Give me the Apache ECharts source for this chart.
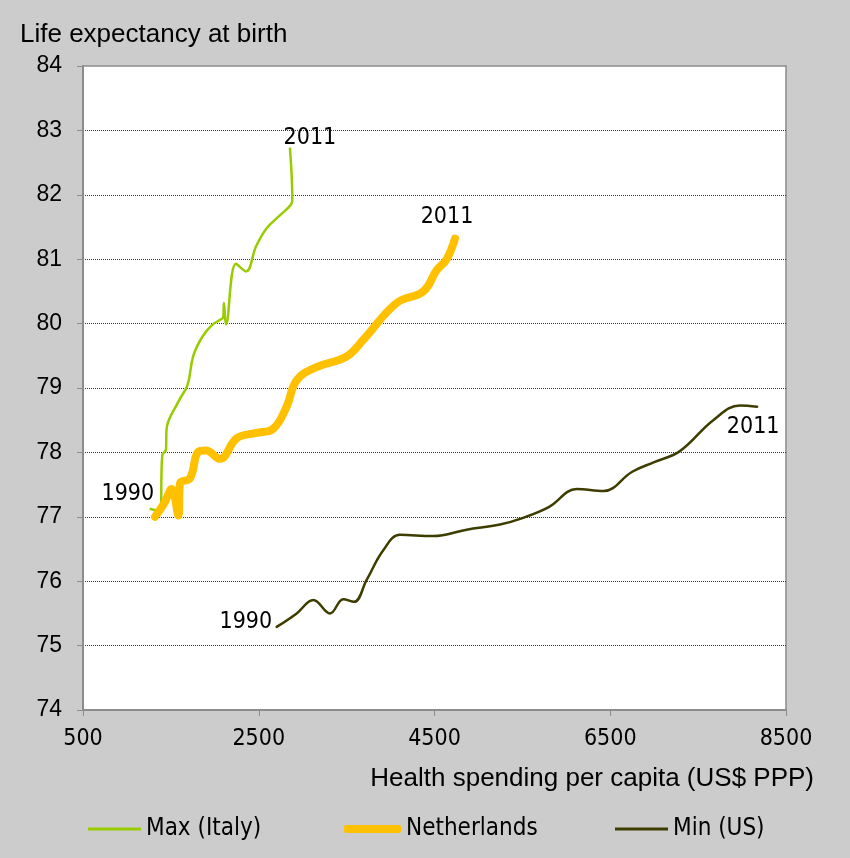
<!DOCTYPE html>
<html>
<head>
<meta charset="utf-8">
<script src="https://cdn.jsdelivr.net/npm/echarts@6/dist/echarts.min.js"></script>
<style>
  html, body { margin: 0; padding: 0; background: #cccccc; }
  #chart { width: 850px; height: 858px; }
</style>
</head>
<body>
<div id="chart"></div>
<script>
// Years covered by each series
const years = [1990, 1991, 1992, 1993, 1994, 1995, 1996, 1997, 1998, 1999, 2000,
               2001, 2002, 2003, 2004, 2005, 2006, 2007, 2008, 2009, 2010, 2011];

// Health spending per capita (US$ PPP) and life expectancy at birth
const italySpend = [1270, 1380, 1402, 1445, 1450, 1590, 1690, 1755, 1860, 1970, 2060,
                    2096, 2104, 2127, 2241, 2355, 2470, 2590, 2740, 2863, 2882, 2855];
const italyLife  = [77.12, 77.08, 77.95, 78.05, 78.35, 78.8, 79.05, 79.5, 79.8, 79.98, 80.06,
                    80.1, 80.32, 79.99, 80.93, 80.81, 81.2, 81.48, 81.68, 81.84, 81.92, 82.72];

const nlSpend = [1319, 1420, 1509, 1585, 1604, 1718, 1812, 1900, 2059, 2249, 2460,
                 2666, 2817, 2931, 3150, 3500, 3690, 4069, 4373, 4525, 4638, 4733];
const nlLife  = [77.0, 77.2, 77.43, 77.02, 77.52, 77.6, 78.01, 78.03, 77.9, 78.22, 78.3,
                 78.37, 78.71, 79.12, 79.32, 79.49, 79.75, 80.32, 80.5, 80.83, 81.0, 81.32];

const usSpend = [2704, 2932, 3121, 3311, 3462, 3584, 3728, 3917, 4107, 4486, 4866,
                 5245, 5500, 5800, 6118, 6421, 6750, 7000, 7293, 7672, 7976, 8172];
const usLife  = [75.29, 75.5, 75.71, 75.5, 75.72, 75.68, 76.02, 76.48, 76.72, 76.7, 76.8,
                 76.88, 76.98, 77.15, 77.43, 77.4, 77.7, 77.85, 78.02, 78.5, 78.73, 78.71];

const seriesNames = ['Max (Italy)', 'Netherlands', 'Min (US)'];
const seriesColors = ['#99cc00', '#ffc000', '#3d3d00'];
const seriesWidths = [2.5, 8, 2.5];
const xTickValues = [500, 2500, 4500, 6500, 8500];

const condensed = "'DejaVu Sans Condensed', 'DejaVu Sans', sans-serif";
const arial = "'Liberation Sans', Arial, sans-serif";

function yearLabel(year, opts) {
  return Object.assign({
    show: true,
    formatter: String(year),
    color: '#000',
    fontFamily: condensed,
    fontSize: 23
  }, opts);
}

// Build [x, y] points; first and last points carry the year labels
function buildPoints(xs, ys, firstLabel, lastLabel) {
  return xs.map((x, i) => {
    const item = { value: [x, ys[i]] };
    if (i === 0 && firstLabel) item.label = yearLabel(years[0], firstLabel);
    if (i === xs.length - 1 && lastLabel) item.label = yearLabel(years[years.length - 1], lastLabel);
    return item;
  });
}

function lineSeries(idx, xs, ys, firstLabel, lastLabel) {
  return {
    name: seriesNames[idx],
    type: 'line',
    smooth: 0.4,
    symbol: 'circle', symbolSize: 1, showSymbol: true,
    itemStyle: { color: 'rgba(0,0,0,0)', borderWidth: 0 },
    lineStyle: { color: seriesColors[idx], width: seriesWidths[idx], cap: 'round', join: 'round' },
    label: { show: false },
    emphasis: { disabled: true },
    data: buildPoints(xs, ys, firstLabel, lastLabel)
  };
}

// One legend per series so each key can carry its own stroke thickness
function legendFor(idx, left, iconWidth, iconHeight, icon) {
  return {
    data: [seriesNames[idx]],
    selectedMode: false,
    left: left, top: 812,
    icon: icon,
    itemWidth: iconWidth, itemHeight: iconHeight,
    itemStyle: { color: seriesColors[idx], borderWidth: 0 },
    textStyle: { fontFamily: condensed, fontSize: 24, color: '#000' }
  };
}

const chart = echarts.init(document.getElementById('chart'), null, { renderer: 'canvas' });

const option = {
  animation: false,
  backgroundColor: '#cccccc',
  title: [
    {
      text: 'Life expectancy at birth',
      left: 15, top: 17,
      textStyle: { fontFamily: arial, fontSize: 26, fontWeight: 'normal', color: '#000' }
    },
    {
      text: 'Health spending per capita (US$ PPP)',
      right: 31, top: 761,
      textStyle: { fontFamily: arial, fontSize: 26, fontWeight: 'normal', color: '#000' }
    }
  ],
  grid: {
    left: 83, top: 66, width: 703, height: 644,
    show: true,
    backgroundColor: '#ffffff',
    borderColor: '#8c8c8c',
    borderWidth: 1.5
  },
  legend: [
    legendFor(0, 83, 53, 3, 'rect'),
    legendFor(1, 339, 57, 8, 'roundRect'),
    legendFor(2, 610, 53, 3, 'rect')
  ],
  xAxis: {
    type: 'value',
    min: 500, max: 8500,
    axisLine: { show: true, lineStyle: { color: '#8c8c8c', width: 2 } },
    axisTick: { show: true, length: 6, customValues: xTickValues, lineStyle: { color: '#8c8c8c' } },
    axisLabel: {
      customValues: xTickValues,
      formatter: (v) => String(v),
      color: '#000', fontFamily: condensed, fontSize: 23, margin: 18
    },
    splitLine: { show: false }
  },
  yAxis: {
    type: 'value',
    min: 74, max: 84, interval: 1,
    axisLine: { show: true, lineStyle: { color: '#8c8c8c', width: 2 } },
    axisTick: { show: true, length: 6, lineStyle: { color: '#8c8c8c' } },
    axisLabel: { color: '#000', fontFamily: arial, fontSize: 23, margin: 21 },
    splitLine: {
      show: true, showMinLine: false, showMaxLine: false,
      lineStyle: { color: '#333', type: [1, 1], width: 1 }
    }
  },
  series: [
    lineSeries(0, italySpend, italyLife,
      { position: 'left', distance: 0, offset: [4, -15] },
      { position: 'top', distance: 0, offset: [20, 2] }),
    lineSeries(1, nlSpend, nlLife, null,
      { position: 'top', distance: 10, offset: [-8, 0] }),
    lineSeries(2, usSpend, usLife,
      { position: 'left', distance: 4, offset: [0, -5] },
      { position: 'bottom', distance: 0, offset: [-4, 8] })
  ]
};

chart.setOption(option);
</script>
</body>
</html>
